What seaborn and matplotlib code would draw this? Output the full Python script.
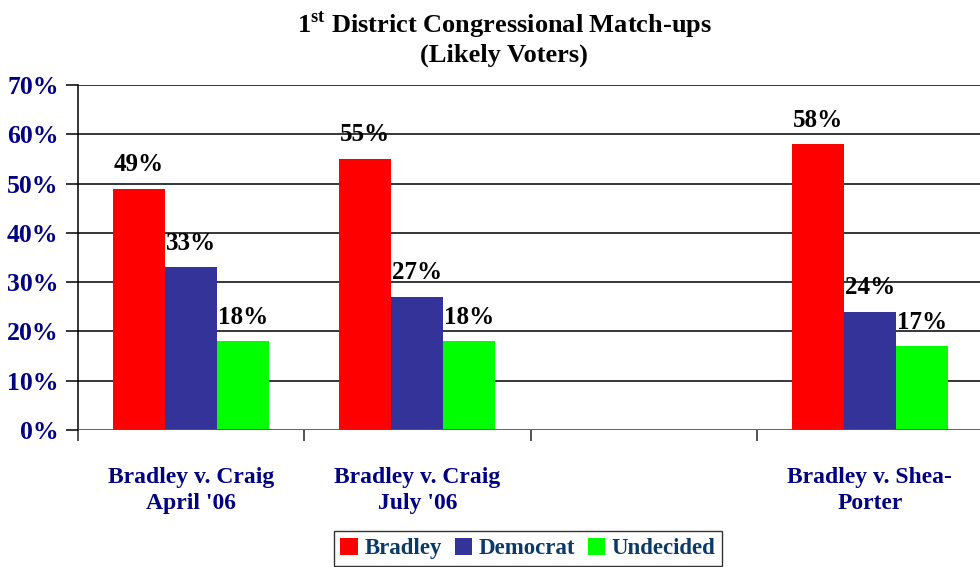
import matplotlib
matplotlib.use("Agg")
import matplotlib.pyplot as plt
import seaborn as sns
import pandas as pd
import numpy as np

# ---- data ----
matchups = ["Bradley v. Craig\nApril '06", "Bradley v. Craig\nJuly '06", " ", "Bradley v. Shea-\nPorter"]
candidates = ["Bradley", "Democrat", "Undecided"]
bradley = [49, 55, None, 58]
democrat = [33, 27, None, 24]
undecided = [18, 18, None, 17]
yticks = [0, 10, 20, 30, 40, 50, 60, 70]
colors = ["#FF0000", "#333399", "#00FF00"]

rows = []
for m, b, d, u in zip(matchups, bradley, democrat, undecided):
    for c, v in zip(candidates, [b, d, u]):
        if v is not None:
            rows.append({"matchup": m, "candidate": c, "pct": v})
df = pd.DataFrame(rows)

sns.set_theme(style="white")
plt.rcParams['font.family'] = ['Liberation Serif', 'DejaVu Serif']
plt.rcParams['font.weight'] = 'bold'
plt.rcParams['mathtext.fontset'] = 'custom'
plt.rcParams['mathtext.rm'] = 'Liberation Serif:bold'
plt.rcParams['mathtext.bf'] = 'Liberation Serif:bold'

fig = plt.figure(figsize=(9.8, 5.67), dpi=100)
ax = fig.add_axes([78/980, 1-430/567, 905/980, (430-85)/567])

sns.barplot(data=df, x="matchup", y="pct", hue="candidate", order=matchups,
            hue_order=candidates, palette=colors, saturation=1, width=0.69,
            linewidth=0, ax=ax, legend=True, zorder=3)

ax.set_xlim(-0.5, 3.5)
ax.set_ylim(0, 70)
ax.set_yticks(yticks)
ax.set_yticklabels([f"{t}%" for t in yticks], fontsize=18.5, fontweight='bold', color='#000080')
ax.set_xlabel("")
ax.set_ylabel("")

# grid lines
for t in yticks[1:]:
    ax.axhline(t, color='black', linewidth=1.1, zorder=1)
ax.axhline(0, color='#555555', linewidth=2.0, zorder=4)

for s in ['top', 'right', 'bottom']:
    ax.spines[s].set_visible(False)
ax.spines['left'].set_color('black')
ax.spines['left'].set_linewidth(1.1)

ax.tick_params(axis='y', which='major', direction='out', length=9, width=1.1, color='black', pad=5, left=True)

# category labels at centres, tick marks at boundaries
ax.set_xticks(range(len(matchups)))
ax.set_xticklabels(matchups, fontsize=17, fontweight='bold', color='#000080', linespacing=1.3)
ax.tick_params(axis='x', which='major', length=0, pad=27)
ax.set_xticks(np.arange(-0.5, len(matchups), 1.0), minor=True)
ax.tick_params(axis='x', which='minor', direction='out', length=8, width=1.3, color='#444444', bottom=True)

# value labels
for cont in ax.containers:
    labels = []
    for bar in cont:
        h = bar.get_height()
        labels.append(f"{h:.0f}%" if np.isfinite(h) and h > 0 else "")
    ax.bar_label(cont, labels=labels, padding=9, fontsize=18, fontweight='bold', color='black')

# legend
handles, lbls = ax.get_legend_handles_labels()
ax.get_legend().remove()
leg = fig.legend(handles, lbls, loc='upper center', bbox_to_anchor=(528/980, 1-531/567),
                 ncol=3, frameon=True, fancybox=False, edgecolor='black',
                 prop={'family': 'Liberation Serif', 'weight': 'bold', 'size': 16.5},
                 handlelength=0.75, handleheight=0.75, handletextpad=0.3, columnspacing=0.55,
                 borderpad=0.3, borderaxespad=0)
leg.get_frame().set_linewidth(1.0)
for t in leg.get_texts():
    t.set_color('#0B3A66')

# title
fig.text(504/980, 1-33/567, r"1$^{\mathrm{st}}$ District Congressional Match-ups",
         ha='center', va='baseline', fontsize=19, fontweight='bold', color='black')
fig.text(504/980, 1-62/567, "(Likely Voters)",
         ha='center', va='baseline', fontsize=19, fontweight='bold', color='black')

fig.savefig("out.png", dpi=100)
